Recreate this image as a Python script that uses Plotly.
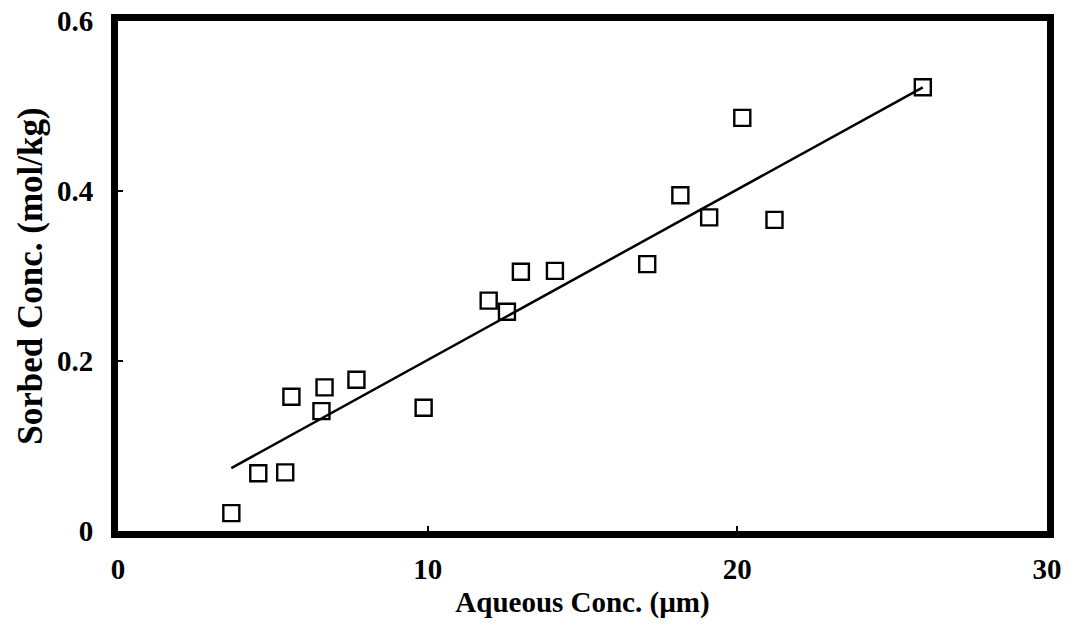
import plotly.graph_objects as go

# Data
aqueous = [3.66, 4.53, 5.40, 5.60, 6.57, 6.67, 7.70, 9.87, 11.97, 12.56,
           13.01, 14.11, 17.09, 18.16, 19.09, 20.16, 21.20, 25.99]
sorbed = [0.021, 0.068, 0.069, 0.158, 0.141, 0.169, 0.178, 0.145, 0.271, 0.258,
          0.305, 0.306, 0.314, 0.395, 0.369, 0.486, 0.366, 0.522]
fit_x = [3.66, 25.99]
fit_y = [0.074, 0.522]

x_ticks = [0, 10, 20, 30]
y_ticks = [0, 0.2, 0.4, 0.6]
y_tick_text = ["0", "0.2", "0.4", "0.6"]

font_family = "Liberation Serif"

fig = go.Figure()
fig.add_trace(go.Scatter(
    x=fit_x, y=fit_y, mode="lines",
    line=dict(color="black", width=2.5), showlegend=False, hoverinfo="skip"))
fig.add_trace(go.Scatter(
    x=aqueous, y=sorbed, mode="markers",
    marker=dict(symbol="square-open", size=16, color="black",
                line=dict(width=2.4, color="black")),
    showlegend=False))

axis_common = dict(
    showline=True, linewidth=7, linecolor="black", mirror=True,
    showgrid=False, zeroline=False, ticks="inside", ticklen=5, tickwidth=2,
    tickcolor="black", automargin=False,
    tickfont=dict(family=font_family, size=29, color="black", weight="bold"),
)

fig.update_xaxes(
    range=[0, 30], tickvals=x_ticks, ticktext=[str(v) for v in x_ticks],
    ticklabelstandoff=6,
    title=dict(text="<b>Aqueous Conc. (µm)</b>",
               font=dict(family=font_family, size=29, color="black"), standoff=10),
    **axis_common)
fig.update_yaxes(
    range=[0, 0.6], tickvals=y_ticks, ticktext=y_tick_text,
    ticklabelstandoff=12,
    title=dict(text="<b>Sorbed Conc. (mol/kg)</b>",
               font=dict(family=font_family, size=35, color="black"), standoff=6),
    **axis_common)

fig.update_layout(
    width=1075, height=635,
    margin=dict(l=118, r=28, t=21, b=104),
    plot_bgcolor="white", paper_bgcolor="white",
)

fig.write_html("out.html")
